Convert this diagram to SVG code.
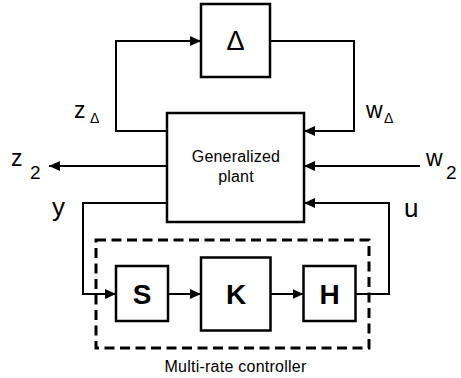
<svg xmlns="http://www.w3.org/2000/svg" width="461" height="378" viewBox="0 0 461 378">
<defs>
<style>
.box{fill:#fff;stroke:#000;stroke-width:2.5}
.wire{fill:none;stroke:#000;stroke-width:2;marker-end:url(#ah)}
.dash{fill:none;stroke:#000;stroke-width:3;stroke-dasharray:10 5.5}
text{font-family:"Liberation Sans",Arial,sans-serif;fill:#000}
.lbl{font-size:23px}
.sub{font-size:14px}
.num{font-size:19px}
.big{font-size:26px}
.blk{font-size:28px;font-weight:bold;text-anchor:middle}
.mid{font-size:16px;text-anchor:middle;letter-spacing:0.2px}
</style>
<marker id="ah" markerUnits="userSpaceOnUse" markerWidth="12" markerHeight="10" refX="11" refY="5" orient="auto">
<path d="M0,0 L11,5 L0,10 z" fill="#000"/>
</marker>
</defs>
<rect width="461" height="378" fill="#fff"/>
<g id="connectors">
<path class="wire" d="M167,131 H116 V41 H201"/>
<path class="wire" d="M270,41 H354 V131 H304"/>
<path class="wire" d="M167,166 H49"/>
<path class="wire" d="M420,166 H304"/>
<path class="wire" d="M167,203 H83 V294 H116"/>
<path class="wire" d="M168,294 H201"/>
<path class="wire" d="M270,294 H303.5"/>
<path class="wire" d="M355.5,294 H389 V203 H304"/>
</g>
<g id="delta">
<rect class="box" x="201" y="4" width="69" height="73"/>
<text x="235.5" y="49.5" font-size="27" text-anchor="middle">Δ</text>
</g>
<g id="plant">
<rect class="box" x="167" y="113" width="137" height="109"/>
<text class="mid" x="236" y="161.5">Generalized</text>
<text class="mid" x="236" y="182">plant</text>
</g>
<g id="controller">
<rect class="dash" x="96" y="240" width="273" height="108"/>
<text class="mid" x="235.5" y="372" style="letter-spacing:0.25px">Multi-rate controller</text>
</g>
<g id="S">
<rect class="box" x="116" y="266" width="52" height="55"/>
<text class="blk" x="142" y="303.5">S</text>
</g>
<g id="K">
<rect class="box" x="201" y="257.5" width="69.5" height="73"/>
<text class="blk" x="236" y="303.5">K</text>
</g>
<g id="H">
<rect class="box" x="303.5" y="266" width="52" height="55"/>
<text class="blk" x="329.5" y="303.5">H</text>
</g>
<g id="labels">
<text class="lbl" x="74" y="118">z</text>
<text class="sub" x="90" y="123">Δ</text>
<text class="lbl" x="366" y="118">w</text>
<text class="sub" x="384" y="123">Δ</text>
<text class="lbl" x="11" y="166">z</text>
<text class="num" x="30" y="178.5">2</text>
<text class="lbl" x="426" y="166">w</text>
<text class="num" x="446" y="179">2</text>
<text class="big" x="52" y="216">y</text>
<text class="big" x="404" y="217">u</text>
</g>
</svg>
